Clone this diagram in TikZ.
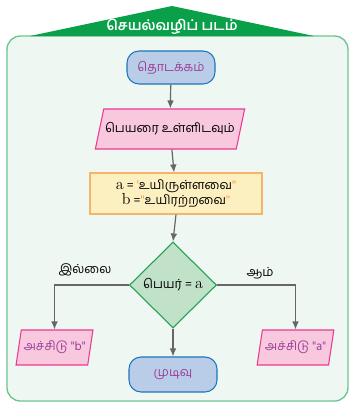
\documentclass[tikz,border=0pt]{standalone}
\usepackage{fontspec}
\newfontfamily\tamil[Script=Tamil]{Hind Madurai}
\usetikzlibrary{shapes.geometric,arrows.meta}

\definecolor{bannergreen}{HTML}{0AA04A}
\definecolor{panelline}{HTML}{6CC58F}
\definecolor{panelfill}{HTML}{EEF7F2}
\definecolor{termline}{HTML}{1B75BB}
\definecolor{termfill}{HTML}{B9CDE9}
\definecolor{purpletext}{HTML}{9C3F98}
\definecolor{ioline}{HTML}{EC3A94}
\definecolor{iofill}{HTML}{F8C8DE}
\definecolor{procline}{HTML}{F6B36C}
\definecolor{procfill}{HTML}{FDF0C0}
\definecolor{quoteorange}{HTML}{F39A3C}
\definecolor{decline}{HTML}{1AA04E}
\definecolor{decfill}{HTML}{C1E2C8}
\definecolor{arrowgray}{HTML}{666666}

\begin{document}
\begin{tikzpicture}[x=0.75pt, y=-0.75pt,
  every node/.style={font=\tamil\fontsize{9.4}{11}\selectfont, inner sep=1pt},
  term/.style={draw=termline, fill=termfill, line width=0.8pt, rounded corners=9pt, text=purpletext},
  io/.style={trapezium, trapezium stretches=true, draw=ioline, fill=iofill, line width=0.8pt},
  proc/.style={draw=procline, fill=procfill, line width=0.8pt, align=center},
  dec/.style={diamond, draw=decline, fill=decfill, line width=0.8pt, inner sep=0pt},
  flow/.style={draw=arrowgray, line width=0.9pt, -{Latex[length=6pt,width=5pt]}},
]
\def\px{0.75pt}
\useasboundingbox (0,0) rectangle (356,408);

% panel and title banner
\draw[draw=panelline, fill=panelfill, line width=1pt, rounded corners=10pt] (7,36) rectangle (348,401);
\fill[bannergreen] (30,36) -- (172,6) -- (314,36) -- cycle;
\node[text=white, font=\tamil\bfseries\fontsize{10.5}{12}\selectfont] (title) at (172,27) {செயல்வழிப் படம்};

% flowchart nodes
\node[term, minimum width=88*\px, minimum height=33*\px] (start) at (171,67.5) {தொடக்கம்};
\node[io, trapezium left angle=61, trapezium right angle=119, minimum width=130*\px, minimum height=40*\px] (read) at (170,129) {பெயரை உள்ளிடவும்};
\node[proc, minimum width=172*\px, minimum height=41*\px] (assign) at (176,193.5)
  {{\rmfamily\fontsize{12}{12}\selectfont a} = {\color{quoteorange}\itshape '}உயிருள்ளவை{\color{quoteorange}\itshape ''}\\
   {\rmfamily\fontsize{12}{12}\selectfont b} ={\color{quoteorange}\itshape ''}உயிரற்றவை{\color{quoteorange}\itshape ''}};
\node[dec, minimum width=87*\px, minimum height=86*\px] (check) at (173,285) {பெயர் = {\rmfamily\fontsize{12}{12}\selectfont a}};
\node[io, trapezium left angle=72, trapezium right angle=108, minimum width=77*\px, minimum height=35*\px, text=purpletext] (printb) at (54.5,347.5) {அச்சிடு "b"};
\node[io, trapezium left angle=72, trapezium right angle=108, minimum width=77*\px, minimum height=35*\px, text=purpletext] (printa) at (295.5,347.5) {அச்சிடு "a"};
\node[term, minimum width=88*\px, minimum height=35*\px] (stop) at (173,374.5) {முடிவு};

% branch labels
\node (no) at (85,270) {இல்லை};
\node (yes) at (260,273) {ஆம்};

% connectors
\draw[flow] (start) -- (read);
\draw[flow] (read) -- (assign);
\draw[flow] (assign.south) -- (check.north);
\draw[flow] (check.west) -| (printb.north);
\draw[flow] (check.east) -| (printa.north);
\draw[flow] (check.south) -- (stop.north);
\end{tikzpicture}
\end{document}
